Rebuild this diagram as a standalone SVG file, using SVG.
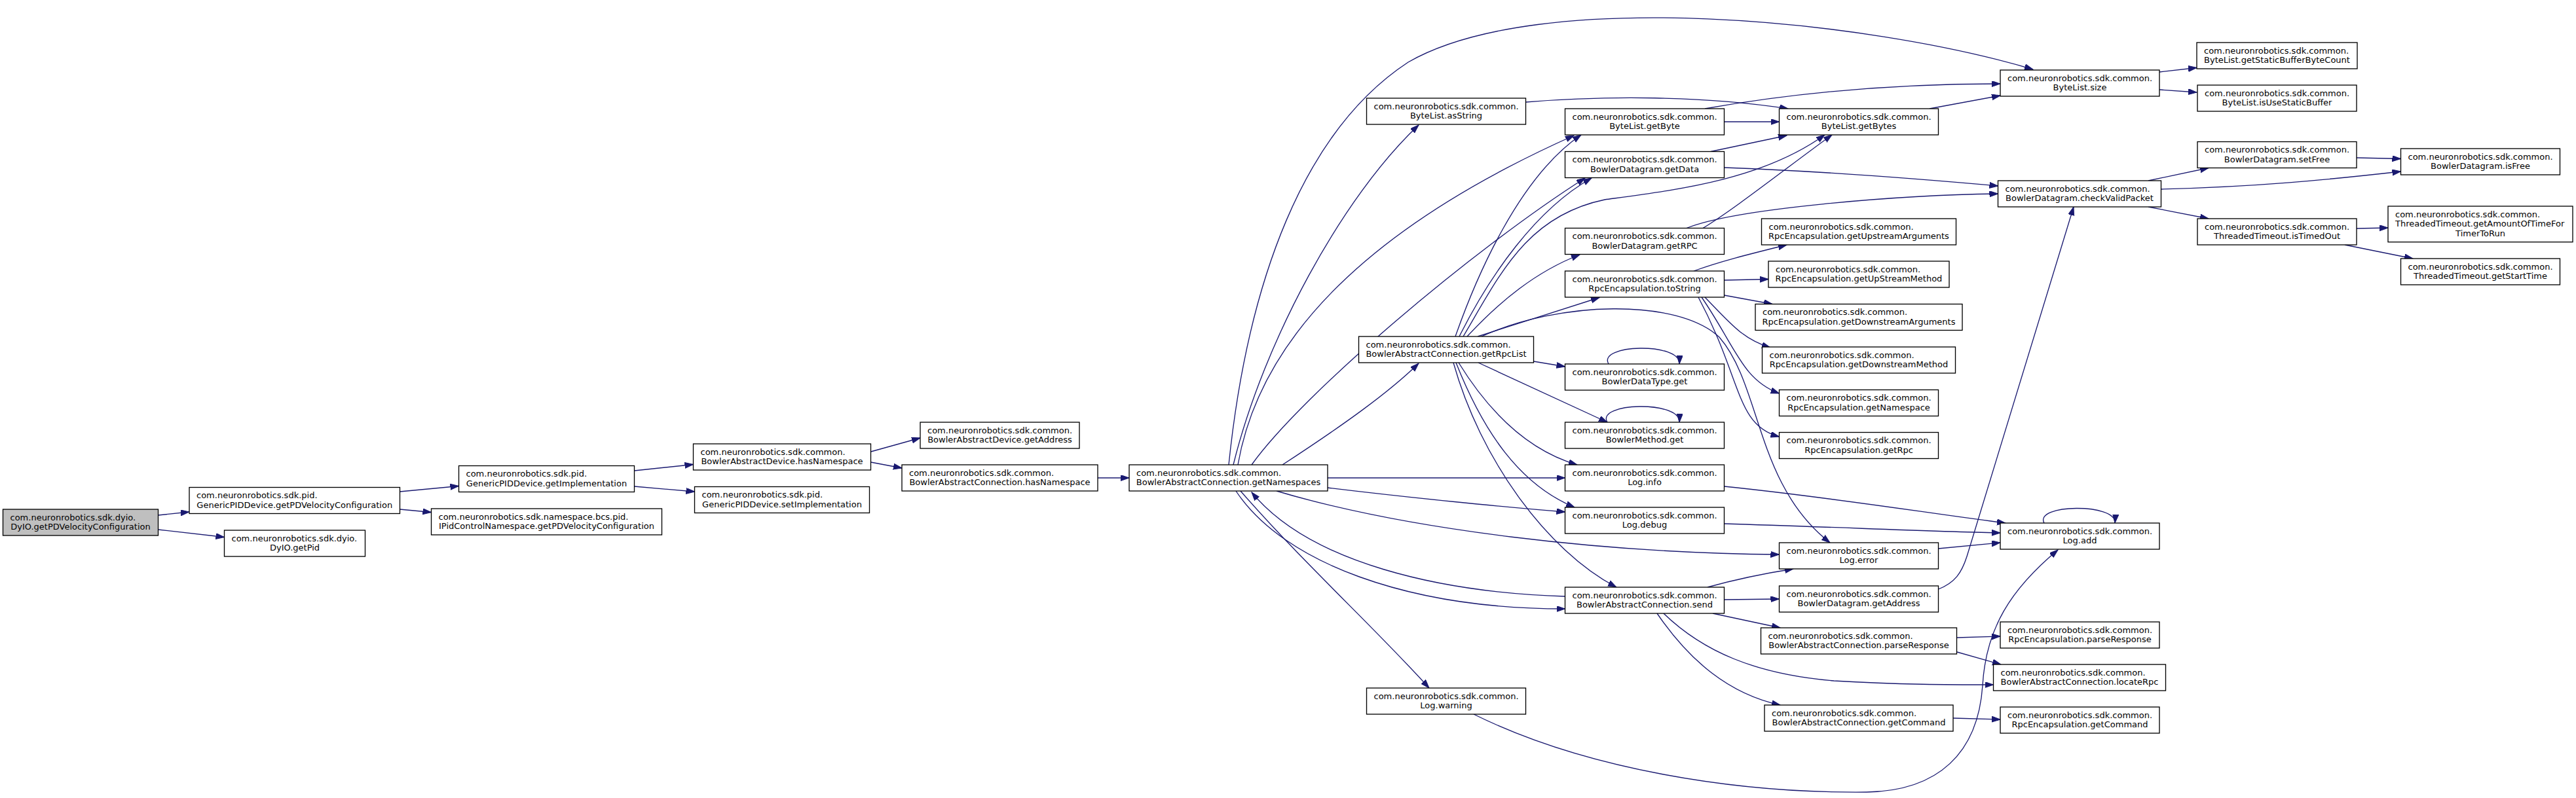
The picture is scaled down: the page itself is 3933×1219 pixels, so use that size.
<svg xmlns="http://www.w3.org/2000/svg" width="3933" height="1219" viewBox="0 0 3933 1219">
<style>
.n rect{fill:#ffffff;stroke:#000000;stroke-width:1.33}
.root rect{fill:#bfbfbf}
text{font-family:"DejaVu Sans","Liberation Sans",sans-serif;font-size:13px;fill:#000000}
.m{text-anchor:middle}
.e path{fill:none;stroke:#191970;stroke-width:1.33;marker-end:url(#ah)}
</style>
<defs>
<marker id="ah" markerUnits="userSpaceOnUse" markerWidth="14" markerHeight="10" refX="13" refY="4.5" orient="auto">
<path d="M0,0 L13,4.5 L0,9 Z" fill="#191970" stroke="#191970" stroke-width="1"/>
</marker>
</defs>
<rect x="0" y="0" width="3933" height="1219" fill="#ffffff"/>
<g id="edges" class="e">
<path d="M241.5,787 L289,782"/>
<path d="M241.5,809 L342.5,820.5"/>
<path d="M610.5,751 L700.5,742.5"/>
<path d="M610.5,778 L658.5,782.5"/>
<path d="M968.5,719 L1058.5,709.5"/>
<path d="M968.5,743 L1060.5,751"/>
<path d="M1329.5,690 L1405,669"/>
<path d="M1329.5,706 L1377,715"/>
<path d="M1676,730 L1724,730"/>
<path d="M1876,710 C1905,430 1990,200 2150,95 C2350,-20 2850,30 3104,106"/>
<path d="M1883,710 C1930,520 2050,300 2166,191"/>
<path d="M1890,710 C1930,480 2150,320 2403,207"/>
<path d="M1911,710 C1990,600 2250,380 2420,272"/>
<path d="M1958,710 C2050,650 2120,600 2166,555"/>
<path d="M2027,730 L2389.5,730"/>
<path d="M2027,745 C2150,760 2300,775 2389.5,782"/>
<path d="M1949,750 C2150,810 2450,845 2716.5,847"/>
<path d="M1887,750 C1960,860 2150,930 2389.5,930"/>
<path d="M2389.5,911 C2200,905 2000,860 1911,752"/>
<path d="M1894,750 C1990,860 2100,960 2182,1051"/>
<path d="M2222,514 C2255,420 2320,270 2414,206"/>
<path d="M2228,514 C2275,420 2345,320 2430,272"/>
<path d="M2234,514 C2290,420 2330,330 2450,305 C2560,290 2690,275 2786,206"/>
<path d="M2240,514 C2290,460 2345,415 2412,389"/>
<path d="M2256,514 L2442,454.5"/>
<path d="M2262,514 C2380,460 2560,455 2625,515 C2690,590 2680,740 2794,829"/>
<path d="M2341.5,552 L2389.5,560"/>
<path d="M2257,554 L2454,645"/>
<path d="M2227,554 C2280,640 2340,690 2408,710"/>
<path d="M2223,554 C2265,660 2320,740 2404,775"/>
<path d="M2219,554 C2260,700 2360,840 2468,897"/>
<path d="M2456,556 C2438,526 2566,522 2564,556"/>
<path d="M2454,645 C2436,615 2566,611 2564,645"/>
<path d="M2586,414 C2630,398 2680,386 2728,374"/>
<path d="M2632.5,428 L2700,426.5"/>
<path d="M2632.5,451 L2706,464.5"/>
<path d="M2603,454 C2640,492 2660,518 2703,531"/>
<path d="M2598,454 C2650,530 2660,580 2716.5,601"/>
<path d="M2593,454 C2660,580 2650,650 2716.5,667"/>
<path d="M2632.5,186 L2716.5,186"/>
<path d="M2603,166 C2750,140 2900,128 3054,128"/>
<path d="M2329.5,156 C2450,146 2600,146 2730,166"/>
<path d="M2612,231.5 L2728,207"/>
<path d="M2632.5,256 C2800,262 2950,275 3050.5,284"/>
<path d="M2600,348.5 C2650,318 2720,262 2797,206"/>
<path d="M2575,348.5 C2650,318 2900,298 3050.5,296"/>
<path d="M2946,166 L3054,146"/>
<path d="M2959.5,838 L3054,829"/>
<path d="M2632.5,743 C2800,760 2950,785 3062,799"/>
<path d="M2632.5,800 C2800,805 2950,812 3054,814"/>
<path d="M2250,1091 C2420,1175 2650,1212 2850,1210 C2960,1208 3020,1150 3027,1047 C3032,960 3070,900 3142,840"/>
<path d="M3121,799 C3105,770 3232,768 3229,799"/>
<path d="M2959.5,900 C2985,890 2995,875 3003,850 L3166,316"/>
<path d="M2607,897 C2650,885 2700,875 2738,869"/>
<path d="M2632.5,916 L2716.5,915"/>
<path d="M2615,937 L2718,959"/>
<path d="M2540,937 C2600,995 2680,1030 2800,1040 C2900,1046 2980,1046 3043.5,1046"/>
<path d="M2530,937 C2580,1010 2640,1060 2718,1077"/>
<path d="M2988,974 L3054,972"/>
<path d="M2988,996 L3055,1015"/>
<path d="M2982,1097 L3054,1099"/>
<path d="M3280,276 L3372,256.5"/>
<path d="M3299.5,289 C3450,285 3550,275 3665.5,262"/>
<path d="M3280,316 L3372,334"/>
<path d="M3598,241 L3665.5,242.5"/>
<path d="M3598,349 L3646,348"/>
<path d="M3580,374 L3684,395"/>
<path d="M3297,110 L3354,103.5"/>
<path d="M3297,137 L3354,141"/>
</g>
<g id="n0" class="n root"><rect x="4.5" y="778" width="237" height="40"/><text x="15.5" y="794.5">com.neuronrobotics.sdk.dyio.</text><text class="m" x="123" y="809">DyIO.getPDVelocityConfiguration</text></g>
<g id="n1" class="n"><rect x="289" y="744.5" width="321.5" height="40"/><text x="300" y="761">com.neuronrobotics.sdk.pid.</text><text class="m" x="449.75" y="775.5">GenericPIDDevice.getPDVelocityConfiguration</text></g>
<g id="n2" class="n"><rect x="342.5" y="810" width="215" height="40"/><text x="353.5" y="826.5">com.neuronrobotics.sdk.dyio.</text><text class="m" x="450" y="841">DyIO.getPid</text></g>
<g id="n3" class="n"><rect x="700.5" y="711.5" width="268" height="40"/><text x="711.5" y="728">com.neuronrobotics.sdk.pid.</text><text class="m" x="834.5" y="742.5">GenericPIDDevice.getImplementation</text></g>
<g id="n4" class="n"><rect x="658.5" y="777" width="352" height="40"/><text x="669.5" y="793.5">com.neuronrobotics.sdk.namespace.bcs.pid.</text><text class="m" x="834.5" y="808">IPidControlNamespace.getPDVelocityConfiguration</text></g>
<g id="n5" class="n"><rect x="1058.5" y="678" width="271" height="40"/><text x="1069.5" y="694.5">com.neuronrobotics.sdk.common.</text><text class="m" x="1194" y="709">BowlerAbstractDevice.hasNamespace</text></g>
<g id="n6" class="n"><rect x="1060.5" y="743.5" width="267" height="40"/><text x="1071.5" y="760">com.neuronrobotics.sdk.pid.</text><text class="m" x="1194" y="774.5">GenericPIDDevice.setImplementation</text></g>
<g id="n7" class="n"><rect x="1405" y="645" width="243" height="40"/><text x="1416" y="661.5">com.neuronrobotics.sdk.common.</text><text class="m" x="1526.5" y="676">BowlerAbstractDevice.getAddress</text></g>
<g id="n8" class="n"><rect x="1377" y="710" width="299" height="40"/><text x="1388" y="726.5">com.neuronrobotics.sdk.common.</text><text class="m" x="1526.5" y="741">BowlerAbstractConnection.hasNamespace</text></g>
<g id="n9" class="n"><rect x="1724" y="710" width="303" height="40"/><text x="1735" y="726.5">com.neuronrobotics.sdk.common.</text><text class="m" x="1875.5" y="741">BowlerAbstractConnection.getNamespaces</text></g>
<g id="n10" class="n"><rect x="2086.5" y="150" width="243" height="40"/><text x="2097.5" y="166.5">com.neuronrobotics.sdk.common.</text><text class="m" x="2208" y="181">ByteList.asString</text></g>
<g id="n11" class="n"><rect x="2074.5" y="514" width="267" height="40"/><text x="2085.5" y="530.5">com.neuronrobotics.sdk.common.</text><text class="m" x="2208" y="545">BowlerAbstractConnection.getRpcList</text></g>
<g id="n12" class="n"><rect x="2086.5" y="1051" width="243" height="40"/><text x="2097.5" y="1067.5">com.neuronrobotics.sdk.common.</text><text class="m" x="2208" y="1082">Log.warning</text></g>
<g id="n13" class="n"><rect x="2389.5" y="166" width="243" height="40"/><text x="2400.5" y="182.5">com.neuronrobotics.sdk.common.</text><text class="m" x="2511" y="197">ByteList.getByte</text></g>
<g id="n14" class="n"><rect x="2389.5" y="231.5" width="243" height="40"/><text x="2400.5" y="248">com.neuronrobotics.sdk.common.</text><text class="m" x="2511" y="262.5">BowlerDatagram.getData</text></g>
<g id="n15" class="n"><rect x="2389.5" y="348.5" width="243" height="40"/><text x="2400.5" y="365">com.neuronrobotics.sdk.common.</text><text class="m" x="2511" y="379.5">BowlerDatagram.getRPC</text></g>
<g id="n16" class="n"><rect x="2389.5" y="414" width="243" height="40"/><text x="2400.5" y="430.5">com.neuronrobotics.sdk.common.</text><text class="m" x="2511" y="445">RpcEncapsulation.toString</text></g>
<g id="n17" class="n"><rect x="2389.5" y="556" width="243" height="40"/><text x="2400.5" y="572.5">com.neuronrobotics.sdk.common.</text><text class="m" x="2511" y="587">BowlerDataType.get</text></g>
<g id="n18" class="n"><rect x="2389.5" y="645" width="243" height="40"/><text x="2400.5" y="661.5">com.neuronrobotics.sdk.common.</text><text class="m" x="2511" y="676">BowlerMethod.get</text></g>
<g id="n19" class="n"><rect x="2389.5" y="710" width="243" height="40"/><text x="2400.5" y="726.5">com.neuronrobotics.sdk.common.</text><text class="m" x="2511" y="741">Log.info</text></g>
<g id="n20" class="n"><rect x="2389.5" y="775" width="243" height="40"/><text x="2400.5" y="791.5">com.neuronrobotics.sdk.common.</text><text class="m" x="2511" y="806">Log.debug</text></g>
<g id="n21" class="n"><rect x="2389.5" y="897" width="243" height="40"/><text x="2400.5" y="913.5">com.neuronrobotics.sdk.common.</text><text class="m" x="2511" y="928">BowlerAbstractConnection.send</text></g>
<g id="n22" class="n"><rect x="2716.5" y="166" width="243" height="40"/><text x="2727.5" y="182.5">com.neuronrobotics.sdk.common.</text><text class="m" x="2838" y="197">ByteList.getBytes</text></g>
<g id="n23" class="n"><rect x="2689.5" y="334" width="297" height="40"/><text x="2700.5" y="350.5">com.neuronrobotics.sdk.common.</text><text class="m" x="2838" y="365">RpcEncapsulation.getUpstreamArguments</text></g>
<g id="n24" class="n"><rect x="2700" y="399" width="276" height="40"/><text x="2711" y="415.5">com.neuronrobotics.sdk.common.</text><text class="m" x="2838" y="430">RpcEncapsulation.getUpStreamMethod</text></g>
<g id="n25" class="n"><rect x="2680" y="464.5" width="316" height="40"/><text x="2691" y="481">com.neuronrobotics.sdk.common.</text><text class="m" x="2838" y="495.5">RpcEncapsulation.getDownstreamArguments</text></g>
<g id="n26" class="n"><rect x="2690.5" y="530" width="295" height="40"/><text x="2701.5" y="546.5">com.neuronrobotics.sdk.common.</text><text class="m" x="2838" y="561">RpcEncapsulation.getDownstreamMethod</text></g>
<g id="n27" class="n"><rect x="2716.5" y="595.5" width="243" height="40"/><text x="2727.5" y="612">com.neuronrobotics.sdk.common.</text><text class="m" x="2838" y="626.5">RpcEncapsulation.getNamespace</text></g>
<g id="n28" class="n"><rect x="2716.5" y="660.5" width="243" height="40"/><text x="2727.5" y="677">com.neuronrobotics.sdk.common.</text><text class="m" x="2838" y="691.5">RpcEncapsulation.getRpc</text></g>
<g id="n29" class="n"><rect x="2716.5" y="829" width="243" height="40"/><text x="2727.5" y="845.5">com.neuronrobotics.sdk.common.</text><text class="m" x="2838" y="860">Log.error</text></g>
<g id="n30" class="n"><rect x="2716.5" y="895" width="243" height="40"/><text x="2727.5" y="911.5">com.neuronrobotics.sdk.common.</text><text class="m" x="2838" y="926">BowlerDatagram.getAddress</text></g>
<g id="n31" class="n"><rect x="2688.5" y="959" width="299" height="40"/><text x="2699.5" y="975.5">com.neuronrobotics.sdk.common.</text><text class="m" x="2838" y="990">BowlerAbstractConnection.parseResponse</text></g>
<g id="n32" class="n"><rect x="2694" y="1077" width="288" height="40"/><text x="2705" y="1093.5">com.neuronrobotics.sdk.common.</text><text class="m" x="2838" y="1108">BowlerAbstractConnection.getCommand</text></g>
<g id="n33" class="n"><rect x="3054" y="107" width="243" height="40"/><text x="3065" y="123.5">com.neuronrobotics.sdk.common.</text><text class="m" x="3175.5" y="138">ByteList.size</text></g>
<g id="n34" class="n"><rect x="3050.5" y="276" width="249" height="40"/><text x="3061.5" y="292.5">com.neuronrobotics.sdk.common.</text><text class="m" x="3175" y="307">BowlerDatagram.checkValidPacket</text></g>
<g id="n35" class="n"><rect x="3054" y="799" width="243" height="40"/><text x="3065" y="815.5">com.neuronrobotics.sdk.common.</text><text class="m" x="3175.5" y="830">Log.add</text></g>
<g id="n36" class="n"><rect x="3054" y="950" width="243" height="40"/><text x="3065" y="966.5">com.neuronrobotics.sdk.common.</text><text class="m" x="3175.5" y="981">RpcEncapsulation.parseResponse</text></g>
<g id="n37" class="n"><rect x="3043.5" y="1015" width="263" height="40"/><text x="3054.5" y="1031.5">com.neuronrobotics.sdk.common.</text><text class="m" x="3175" y="1046">BowlerAbstractConnection.locateRpc</text></g>
<g id="n38" class="n"><rect x="3054" y="1080" width="243" height="40"/><text x="3065" y="1096.5">com.neuronrobotics.sdk.common.</text><text class="m" x="3175.5" y="1111">RpcEncapsulation.getCommand</text></g>
<g id="n39" class="n"><rect x="3354" y="65" width="245" height="40"/><text x="3365" y="81.5">com.neuronrobotics.sdk.common.</text><text class="m" x="3476.5" y="96">ByteList.getStaticBufferByteCount</text></g>
<g id="n40" class="n"><rect x="3355" y="130" width="243" height="40"/><text x="3366" y="146.5">com.neuronrobotics.sdk.common.</text><text class="m" x="3476.5" y="161">ByteList.isUseStaticBuffer</text></g>
<g id="n41" class="n"><rect x="3355" y="216.5" width="243" height="40"/><text x="3366" y="233">com.neuronrobotics.sdk.common.</text><text class="m" x="3476.5" y="247.5">BowlerDatagram.setFree</text></g>
<g id="n42" class="n"><rect x="3355" y="334" width="243" height="40"/><text x="3366" y="350.5">com.neuronrobotics.sdk.common.</text><text class="m" x="3476.5" y="365">ThreadedTimeout.isTimedOut</text></g>
<g id="n43" class="n"><rect x="3665.5" y="227" width="243" height="40"/><text x="3676.5" y="243.5">com.neuronrobotics.sdk.common.</text><text class="m" x="3787" y="258">BowlerDatagram.isFree</text></g>
<g id="n44" class="n"><rect x="3646" y="315" width="282" height="54.7"/><text x="3657" y="331.5">com.neuronrobotics.sdk.common.</text><text x="3657" y="346.2">ThreadedTimeout.getAmountOfTimeFor</text><text class="m" x="3787" y="360.8">TimerToRun</text></g>
<g id="n45" class="n"><rect x="3665.5" y="395" width="243" height="40"/><text x="3676.5" y="411.5">com.neuronrobotics.sdk.common.</text><text class="m" x="3787" y="426">ThreadedTimeout.getStartTime</text></g>
</svg>
